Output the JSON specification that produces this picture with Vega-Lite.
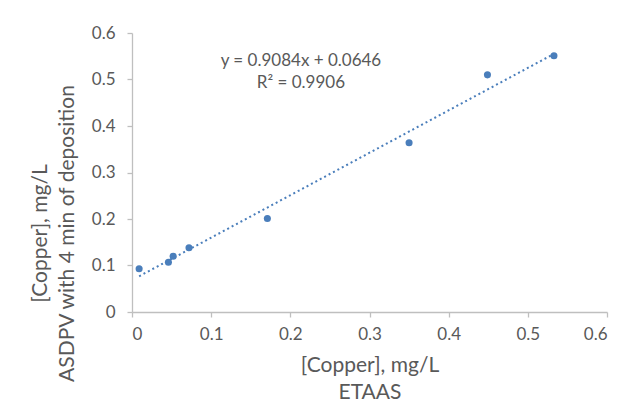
{
  "$schema": "https://vega.github.io/schema/vega-lite/v6.json",
  "autosize": {"type": "none"},
  "padding": {"left": 132, "top": 33, "right": 18, "bottom": 108},
  "width": 475,
  "height": 279,
  "background": "white",
  "config": {
    "view": {"stroke": null},
    "font": "Lato",
    "axis": {
      "grid": false,
      "domainColor": "#bfbfbf",
      "domainWidth": 1.3,
      "tickColor": "#bfbfbf",
      "tickWidth": 1.3,
      "tickSize": 5,
      "labelColor": "#595959",
      "labelFontSize": 17,
      "labelFont": "Lato",
      "titleColor": "#595959",
      "titleFont": "Lato",
      "titleFontSize": 21,
      "titleFontWeight": "normal"
    }
  },
  "datasets": {
    "pts": [
      {"etaas": 0.009, "asdpv": 0.093},
      {"etaas": 0.046, "asdpv": 0.107},
      {"etaas": 0.052, "asdpv": 0.120},
      {"etaas": 0.072, "asdpv": 0.138},
      {"etaas": 0.171, "asdpv": 0.201},
      {"etaas": 0.350, "asdpv": 0.364},
      {"etaas": 0.449, "asdpv": 0.510},
      {"etaas": 0.533, "asdpv": 0.551}
    ],
    "notes": [
      {"etaas": 0.2134, "asdpv": 0.540, "label": "y = 0.9084x + 0.0646"},
      {"etaas": 0.2134, "asdpv": 0.492, "label": "R² = 0.9906"}
    ]
  },
  "layer": [
    {
      "data": {"name": "pts"},
      "transform": [{"regression": "asdpv", "on": "etaas"}],
      "mark": {"type": "line", "color": "#4a7ebb", "strokeWidth": 2, "strokeDash": [2, 3]},
      "encoding": {
        "x": {"field": "etaas", "type": "quantitative"},
        "y": {"field": "asdpv", "type": "quantitative"}
      }
    },
    {
      "data": {"name": "pts"},
      "mark": {"type": "point", "filled": true, "opacity": 1, "color": "#4a7ebb", "size": 50},
      "encoding": {
        "x": {
          "field": "etaas", "type": "quantitative",
          "scale": {"domain": [0, 0.6], "nice": false},
          "axis": {"values": [0, 0.1, 0.2, 0.3, 0.4, 0.5, 0.6], "format": "~g", "labelPadding": 9, "titlePadding": 12,
                   "title": ["[Copper], mg/L", "ETAAS"], "titleLineHeight": 27}
        },
        "y": {
          "field": "asdpv", "type": "quantitative",
          "scale": {"domain": [0, 0.6], "nice": false},
          "axis": {"values": [0, 0.1, 0.2, 0.3, 0.4, 0.5, 0.6], "format": "~g", "labelPadding": 12, "titlePadding": 14,
                   "title": ["[Copper], mg/L", "ASDPV with 4 min of deposition"], "titleLineHeight": 27, "titleY": 200}
        }
      }
    },
    {
      "data": {"name": "notes"},
      "mark": {"type": "text", "color": "#595959", "fontSize": 17, "font": "Lato"},
      "encoding": {
        "x": {"field": "etaas", "type": "quantitative"},
        "y": {"field": "asdpv", "type": "quantitative"},
        "text": {"field": "label"}
      }
    }
  ]
}
